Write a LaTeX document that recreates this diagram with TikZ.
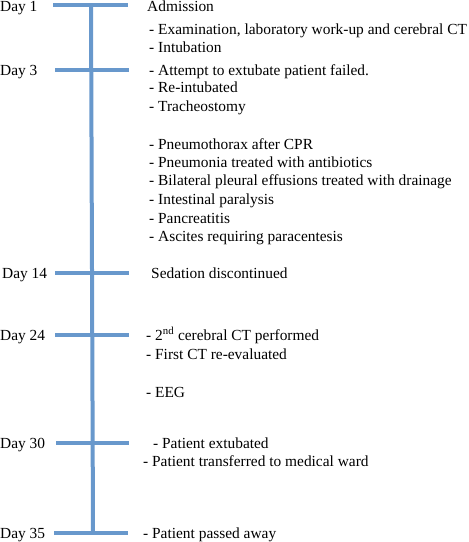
\documentclass[tikz,border=0pt]{standalone}
\usepackage{fontspec}
\setmainfont{Liberation Serif}
\usetikzlibrary{positioning}
\definecolor{lineblue}{RGB}{104,152,204}

\begin{document}
\begin{tikzpicture}[x=1pt, y=-1pt,
    bar/.style={draw=lineblue, line width=4pt},
    daylabel/.style={anchor=base west, inner sep=0pt, font=\fontsize{15.4}{18}\selectfont},
    event/.style={anchor=base west, inner sep=0pt, font=\fontsize{15.4}{18}\selectfont}
]
    \useasboundingbox (0,0) rectangle (469,542);

    % Timeline
    \coordinate (top) at (91,5);
    \coordinate (bottom) at (93,533);
    \draw[bar] (top) -- (bottom);

    % Day 1
    \node[daylabel] (day1) at (0,11) {Day 1};
    \coordinate (bar1l) at (53,5);
    \coordinate (bar1r) at (128,5);
    \draw[bar] (bar1l) -- (bar1r);
    \node[event] (admission) at (147,11) {Admission};
    \node[event] (exam) at (149,34) {- Examination, laboratory work-up and cerebral CT};
    \node[event] (intub) at (149,52) {- Intubation};

    % Day 3
    \node[daylabel] (day3) at (0,75) {Day 3};
    \coordinate (bar3l) at (55,70);
    \coordinate (bar3r) at (129,70);
    \draw[bar] (bar3l) -- (bar3r);
    \node[event] (extub) at (149,75) {- Attempt to extubate patient failed.};
    \node[event] (reintub) at (149,92) {- Re-intubated};
    \node[event] (tracheo) at (149,111) {- Tracheostomy};

    % Complications
    \node[event] (pneumo) at (149,149) {- Pneumothorax after CPR};
    \node[event] (pneumonia) at (149,167) {- Pneumonia treated with antibiotics};
    \node[event] (effusion) at (149,185) {- Bilateral pleural effusions treated with drainage};
    \node[event] (paralysis) at (149,204) {- Intestinal paralysis};
    \node[event] (pancreas) at (149,223) {- Pancreatitis};
    \node[event] (ascites) at (149,241) {- Ascites requiring paracentesis};

    % Day 14
    \node[daylabel] (day14) at (2,278) {Day 14};
    \coordinate (bar14l) at (55,273);
    \coordinate (bar14r) at (129,273);
    \draw[bar] (bar14l) -- (bar14r);
    \node[event] (sedation) at (151,278) {Sedation discontinued};

    % Day 24
    \node[daylabel] (day24) at (0,340) {Day 24};
    \coordinate (bar24l) at (55,335);
    \coordinate (bar24r) at (129,335);
    \draw[bar] (bar24l) -- (bar24r);
    \node[event] (ct2) at (146,340) {- 2\textsuperscript{nd} cerebral CT performed};
    \node[event] (ct1) at (146,359) {- First CT re-evaluated};
    \node[event] (eeg) at (146,397) {- EEG};

    % Day 30
    \node[daylabel] (day30) at (0,448) {Day 30};
    \coordinate (bar30l) at (56,443);
    \coordinate (bar30r) at (129,443);
    \draw[bar] (bar30l) -- (bar30r);
    \node[event] (extubated) at (153,448) {- Patient extubated};
    \node[event] (ward) at (143,466) {- Patient transferred to medical ward};

    % Day 35
    \node[daylabel] (day35) at (0,538) {Day 35};
    \coordinate (bar35l) at (54,533);
    \coordinate (bar35r) at (128,533);
    \draw[bar] (bar35l) -- (bar35r);
    \node[event] (death) at (143,538) {- Patient passed away};

\end{tikzpicture}
\end{document}
